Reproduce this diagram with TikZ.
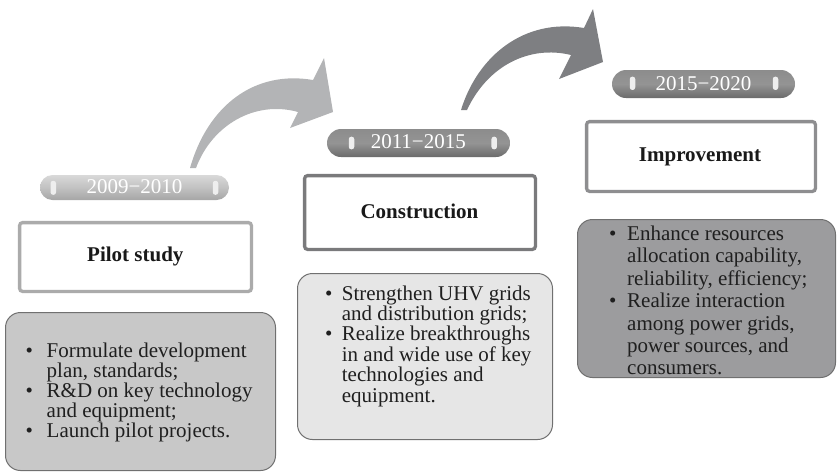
\documentclass[tikz,border=0pt]{standalone}
\usepackage{fontspec}
\setmainfont{Liberation Serif}
\definecolor{arrowlight}{HTML}{B3B4B6}
\definecolor{arrowdark}{HTML}{7E7F82}
\definecolor{boxA}{HTML}{C8C8C8}
\definecolor{boxB}{HTML}{E6E6E6}
\definecolor{boxC}{HTML}{9C9C9E}
\definecolor{edgeA}{HTML}{ABABAB}
\definecolor{edgeB}{HTML}{7A7A7C}
\definecolor{edgeC}{HTML}{8E8E90}
\definecolor{grayedge}{HTML}{707070}
\definecolor{markfill}{HTML}{EEEEEE}
\newcommand\bul[1]{\makebox[#1][l]{•}}
\newcommand\blines[2]{\vtop{\baselineskip=#1\relax\lineskiplimit=-100pt\lineskip=0pt #2}}
\newcommand\fs{\fontsize{21}{21}\selectfont}
\begin{document}
\begin{tikzpicture}[x=1pt,y=-1pt,
  titlebox/.style={draw, line width=3.3pt, rounded corners=3pt, fill=white, inner sep=0pt, outer sep=0pt},
  listbox/.style={draw=grayedge, line width=1pt, rounded corners=15pt, inner sep=0pt, outer sep=0pt},
  pillbox/.style={rounded corners=#1, inner sep=0pt, outer sep=0pt},
  pillmark/.style={fill=markfill, rounded corners=2.5pt, inner sep=0pt, outer sep=0pt, minimum width=5.5pt},
  yeartext/.style={font=\fs, text=white, inner sep=0pt, anchor=base},
  titletext/.style={font=\fs\bfseries, text=black!90, inner sep=0pt, anchor=base},
  listtext/.style={font=\fs, text=black!88, inner sep=0pt, anchor=base west}]
\useasboundingbox (0,0) rectangle (838,472);

% curved arrows
\fill[arrowlight] (190,168) .. controls (208,105) and (255,70) .. (313,80)
  -- (324,58) -- (333,112) -- (290,128) -- (298,112)
  .. controls (255,100) and (212,125) .. (196,168) -- cycle;
\fill[arrowdark] (461,110) .. controls (478,55) and (525,18) .. (584,28)
  -- (593,9) -- (603,62) -- (559,79) -- (571,55)
  .. controls (530,45) and (488,65) .. (467,110) -- cycle;

% year pills
\node[pillbox=12.5pt, top color=black!15, bottom color=black!35, middle color=black!24,
  minimum width=189pt, minimum height=25pt] (p1) at (134.5,187.5) {};
\node[pillbox=14pt, top color=black!45, bottom color=black!58, middle color=black!42,
  minimum width=183pt, minimum height=28pt] (p2) at (418.5,143) {};
\node[pillbox=14pt, top color=black!45, bottom color=black!58, middle color=black!42,
  minimum width=183pt, minimum height=28pt] (p3) at (703.5,84) {};

\node[pillmark, minimum height=14pt] (m1a) at (53.3,187.8) {};
\node[pillmark, minimum height=14pt] (m1b) at (215.5,187.8) {};
\node[pillmark, minimum height=12.6pt] (m2a) at (351.5,143) {};
\node[pillmark, minimum height=12.6pt] (m2b) at (494.2,143) {};
\node[pillmark, minimum height=13.3pt] (m3a) at (632.5,83.3) {};
\node[pillmark, minimum height=13.3pt] (m3b) at (775.5,83.3) {};

\node[yeartext] (y1) at (134.5,193) {2009−2010};
\node[yeartext] (y2) at (418.3,148.3) {2011−2015};
\node[yeartext] (y3) at (703.5,90) {2015−2020};

% title boxes
\node[titlebox, draw=edgeA, minimum width=231.8pt, minimum height=68.8pt] (b1) at (135.5,257) {};
\node[titlebox, draw=edgeB, minimum width=230.8pt, minimum height=73.8pt] (b2) at (420,212.5) {};
\node[titlebox, draw=edgeC, minimum width=228.8pt, minimum height=69.8pt] (b3) at (701,156.5) {};

\node[titletext] (t1) at (135.3,261) {Pilot study};
\node[titletext] (t2) at (419.5,218) {Construction};
\node[titletext] (t3) at (700,161) {Improvement};

% list boxes
\node[listbox, fill=boxA, minimum width=270pt, minimum height=158pt] (g1) at (140.5,391.5) {};
\node[listbox, fill=boxB, minimum width=255pt, minimum height=166pt] (g2) at (425,356.5) {};
\node[listbox, fill=boxC, minimum width=258pt, minimum height=158pt] (g3) at (706.5,298.5) {};

\node[listtext] (l1) at (25.5,357) {\blines{20pt}{%
  \hbox{\bul{21pt}Formulate development}
  \hbox{\hskip21pt plan, standards;}
  \hbox{\bul{21pt}R\&D on key technology}
  \hbox{\hskip21pt and equipment;}
  \hbox{\bul{21pt}Launch pilot projects.}}};
\node[listtext] (l2) at (325,300) {\blines{20.4pt}{%
  \hbox{\bul{16.7pt}Strengthen UHV grids}
  \hbox{\hskip16.7pt and distribution grids;}
  \hbox{\bul{16.7pt}Realize breakthroughs}
  \hbox{\hskip16.7pt in and wide use of key}
  \hbox{\hskip16.7pt technologies and}
  \hbox{\hskip16.7pt equipment.}}};
\node[listtext] (l3) at (609,240.5) {\blines{22.4pt}{%
  \hbox{\bul{18pt}Enhance resources}
  \hbox{\hskip18pt allocation capability,}
  \hbox{\hskip18pt reliability, efficiency;}
  \hbox{\bul{18pt}Realize interaction}
  \hbox{\hskip18pt among power grids,}
  \hbox{\hskip18pt power sources, and}
  \hbox{\hskip18pt consumers.}}};
\end{tikzpicture}
\end{document}
